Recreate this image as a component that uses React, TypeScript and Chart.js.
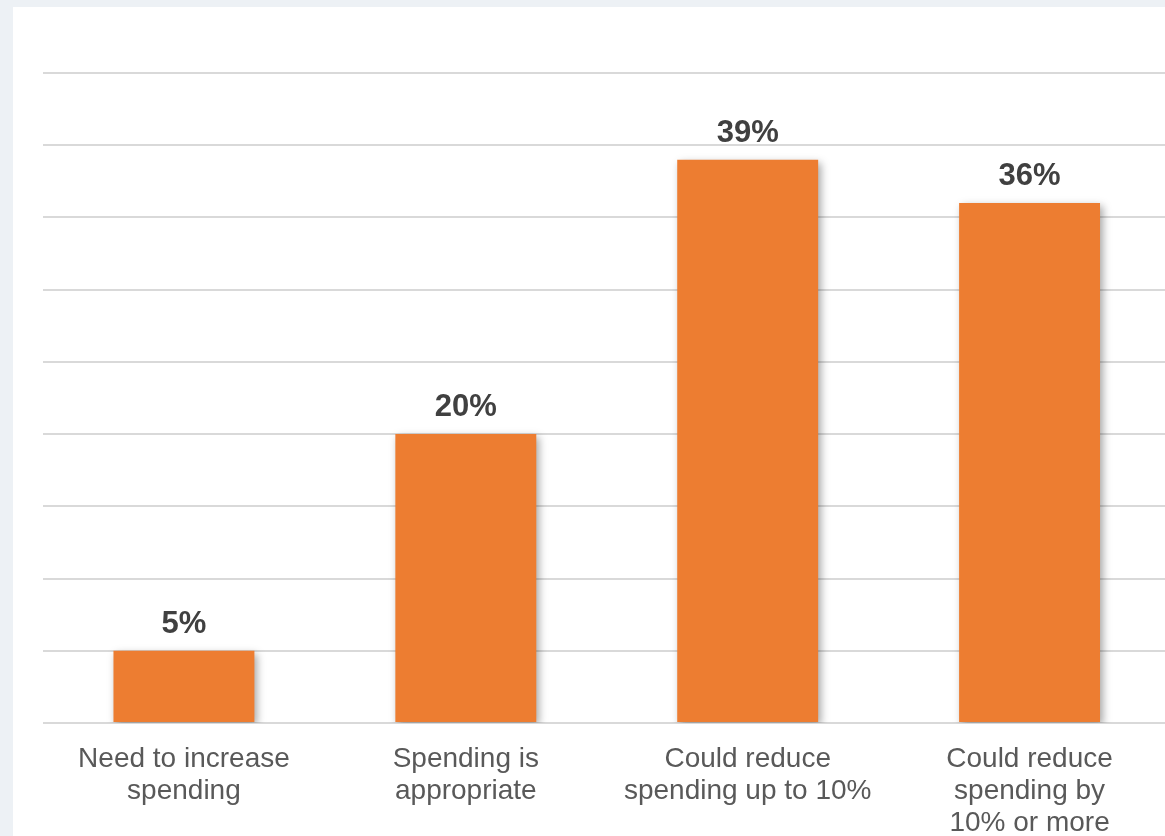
import React, { useEffect, useRef } from "react";
import { Chart, registerables } from "chart.js";

Chart.register(...registerables);

const categories: string[][] = [
  ["Need to increase", "spending"],
  ["Spending is", "appropriate"],
  ["Could reduce", "spending up to 10%"],
  ["Could reduce", "spending by", "10% or more"],
];
const values: number[] = [5, 20, 39, 36];
const valueLabels: string[] = ["5%", "20%", "39%", "36%"];
const yMin = 0;
const yMax = 45;
const yStep = 5;

const FONT = "'Liberation Sans', Arial, Helvetica, sans-serif";

const shadowPlugin = {
  id: "barShadow",
  beforeDatasetsDraw(chart: any) {
    const ctx = chart.ctx;
    ctx.save();
    ctx.shadowColor = "rgba(0,0,0,0.35)";
    ctx.shadowBlur = 8;
    ctx.shadowOffsetX = 3;
    ctx.shadowOffsetY = 3;
  },
  afterDatasetsDraw(chart: any) {
    const ctx = chart.ctx;
    ctx.restore();
    ctx.save();
    ctx.font = `bold 31px ${FONT}`;
    ctx.fillStyle = "#404040";
    ctx.textAlign = "center";
    ctx.textBaseline = "alphabetic";
    const meta = chart.getDatasetMeta(0);
    meta.data.forEach((bar: any, i: number) => {
      ctx.fillText(valueLabels[i], bar.x, bar.y - 18);
    });
    ctx.restore();
  },
};

export default function App() {
  const ref = useRef<HTMLCanvasElement | null>(null);
  useEffect(() => {
    if (!ref.current) return;
    const chart = new Chart(ref.current, {
      type: "bar",
      data: {
        labels: categories,
        datasets: [
          {
            data: values,
            backgroundColor: "#ED7D31",
            borderWidth: 0,
            categoryPercentage: 1,
            barPercentage: 0.5,
          },
        ],
      },
      options: {
        responsive: false,
        animation: false,
        devicePixelRatio: 1,
        layout: { padding: { left: 43, top: 73, right: 29.5, bottom: 0 } },
        plugins: { legend: { display: false }, tooltip: { enabled: false } },
        scales: {
          x: {
            grid: { display: false },
            border: { display: false },
            ticks: {
              color: "#595959",
              font: { family: FONT, size: 28, lineHeight: 1.15 },
              maxRotation: 0,
              minRotation: 0,
              autoSkip: false,
              padding: 12,
            },
            afterFit(scale: any) {
              scale.height = 836 - 723;
            },
          },
          y: {
            min: yMin,
            max: yMax,
            ticks: { stepSize: yStep, display: false },
            grid: { color: "#d9d9d9", lineWidth: 2, drawTicks: false },
            border: { display: false },
            afterFit(scale: any) {
              scale.width = 0;
            },
          },
        },
      },
      plugins: [shadowPlugin],
    });
    return () => chart.destroy();
  }, []);

  return (
    <div
      style={{
        position: "fixed",
        left: 0,
        top: 0,
        width: 1165,
        height: 836,
        overflow: "hidden",
        background: "#EDF1F5",
      }}
    >
      <div
        style={{
          position: "absolute",
          left: 13,
          top: 7,
          right: 0,
          bottom: 0,
          background: "#ffffff",
        }}
      />
      <canvas
        ref={ref}
        width={1200}
        height={836}
        style={{ position: "absolute", left: 0, top: 0, width: 1200, height: 836 }}
      />
    </div>
  );
}
